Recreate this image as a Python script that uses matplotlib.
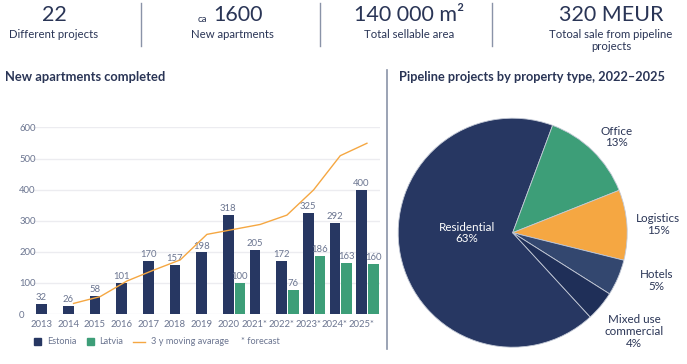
import matplotlib.pyplot as plt
from matplotlib.patches import Rectangle
from matplotlib.lines import Line2D

plt.rcParams['font.family'] = ['Lato', 'DejaVu Sans']

W, H = 687, 364

# --- data ---
years = ['2013', '2014', '2015', '2016', '2017', '2018', '2019', '2020',
         '2021*', '2022*', '2023*', '2024*', '2025*']
estonia = [32, 26, 58, 101, 170, 157, 198, 318, 205, 172, 325, 292, 400]
latvia = [None, None, None, None, None, None, None, 100, None, 76, 186, 163, 160]
moving_avg = [None, 34, 56, 106, 141, 174, 256, 272, 288, 318, 399, 509, 549]

pie_labels = ['Residential\n63%', 'Office\n13%', 'Logistics\n15%', 'Hotels\n5%',
              'Mixed use\ncommercial\n4%']
pie_shares = [67.5, 13.3, 9.9, 5.1, 4.2]

kpi_values = ['22', '1600', '140 000 m\u00b2', '320 MEUR']
kpi_texts = ['Different projects', 'New apartments', 'Total sellable area',
             'Totoal sale from pipeline\nprojects']

NAVY = '#273762'
GREEN = '#3d9e78'
ORANGE = '#f5a742'
HOTEL = '#33476f'
MIXED = '#1f2f58'
TXT = '#2a3556'
GREY = '#6b7590'


def fx(px):
    return px / W


def fy(py):
    return 1 - py / H


fig = plt.figure(figsize=(W / 100, H / 100), dpi=100)

# --- KPI header ---
centers = [54, 232, 409, 611]
for cx, val, txt in zip(centers, kpi_values, kpi_texts):
    fig.text(fx(cx + (6 if val == '1600' else 0)), fy(15), val, ha='center', va='center',
             fontsize=15.5, color=TXT)
    fig.text(fx(cx), fy(29.5), txt, ha='center', va='top', fontsize=8.2, color=TXT,
             linespacing=1.1)
fig.text(fx(207), fy(21.5), 'ca', ha='right', va='baseline', fontsize=7, color=TXT)
for sx in [141, 320, 492]:
    fig.add_artist(Line2D([fx(sx)] * 2, [fy(3), fy(46)], color='#8a93a8', lw=1))

# --- titles and divider ---
fig.text(fx(5), fy(77), 'New apartments completed', ha='left', va='center',
         fontsize=9.3, fontweight='bold', color=TXT)
fig.text(fx(399), fy(77), 'Pipeline projects by property type, 2022\u20132025',
         ha='left', va='center', fontsize=9.2, fontweight='bold', color=TXT)
fig.add_artist(Line2D([fx(387)] * 2, [fy(70), fy(349)], color='#8a93a8', lw=1.2))

# --- bar chart ---
ax = fig.add_axes([fx(33), fy(314), (380 - 33) / W, (314 - 127.4) / H])
x = list(range(len(years)))
bw, off = 0.40, 0.44
ax.bar(x, estonia, width=bw, color=NAVY, zorder=2)
lx = [i + off for i, v in zip(x, latvia) if v is not None]
lv = [v for v in latvia if v is not None]
ax.bar(lx, lv, width=bw, color=GREEN, zorder=2)
for i, v in zip(x, estonia):
    ax.text(i, v + 6, str(v), ha='center', va='bottom', fontsize=6.8, color=GREY)
for i, v in zip(lx, lv):
    ax.text(i, v + 6, str(v), ha='center', va='bottom', fontsize=6.8, color=GREY)
mx = [i + 0.2 for i, v in zip(x, moving_avg) if v is not None]
mv = [v for v in moving_avg if v is not None]
ax.plot(mx, mv, color=ORANGE, lw=1, zorder=3, clip_on=False)

ax.set_xlim(-0.32, 12.69)
ax.set_ylim(0, 600)
ax.set_yticks(range(0, 601, 100))
ax.set_xticks(x)
ax.set_xticklabels(years)
ax.yaxis.grid(True, color='#ececf0', lw=1, zorder=0)
ax.set_axisbelow(True)
for s in ax.spines.values():
    s.set_visible(False)
ax.tick_params(length=0, labelsize=6.8, labelcolor=GREY)
ax.tick_params(axis='x', pad=4)
ax.tick_params(axis='y', pad=10)
for lbl in ax.get_yticklabels():
    lbl.set_ha('left')

# --- legend (manual) ---
ly = 341.7
fig.add_artist(Rectangle((fx(34), fy(ly + 3.4)), 6.7 / W, 6.8 / H, color=NAVY,
                         transform=fig.transFigure))
fig.text(fx(47.3), fy(ly), 'Estonia', va='center', fontsize=6.6, color=GREY)
fig.add_artist(Rectangle((fx(87.3), fy(ly + 3.4)), 6.7 / W, 6.8 / H, color=GREEN,
                         transform=fig.transFigure))
fig.text(fx(99.3), fy(ly), 'Latvia', va='center', fontsize=6.6, color=GREY)
fig.add_artist(Line2D([fx(133.3), fx(145)], [fy(ly)] * 2, color=ORANGE, lw=1))
fig.text(fx(150.7), fy(ly), '3 y moving avarage', va='center', fontsize=6.6, color=GREY)
fig.text(fx(240.7), fy(ly), '* forecast', va='center', fontsize=6.6, color=GREY)

# --- pie chart ---
cxp, cyp, r = 512.7, 232.7, 114.5
pax = fig.add_axes([fx(cxp - r), fy(cyp + r), 2 * r / W, 2 * r / H])
pcolors = [NAVY, GREEN, ORANGE, HOTEL, MIXED]
start = 69.6 + pie_shares[0] / 100 * 360
pax.pie(pie_shares, colors=pcolors, startangle=start, counterclock=False,
        wedgeprops=dict(edgecolor='#c3c9d6', linewidth=0.6))
pax.set_xlim(-1, 1)
pax.set_ylim(-1, 1)

label_pos = [(467, 233), (616.7, 137), (658.3, 224.5), (656.7, 280.5), (634.3, 331.7)]
for (px, py), lab in zip(label_pos, pie_labels):
    col = 'white' if lab.startswith('Residential') else TXT
    pax.text((px - cxp) / r, (cyp - py) / r, lab, ha='center', va='center',
             fontsize=8.4, color=col, linespacing=1.1, clip_on=False)

fig.savefig('out.png', dpi=100)
